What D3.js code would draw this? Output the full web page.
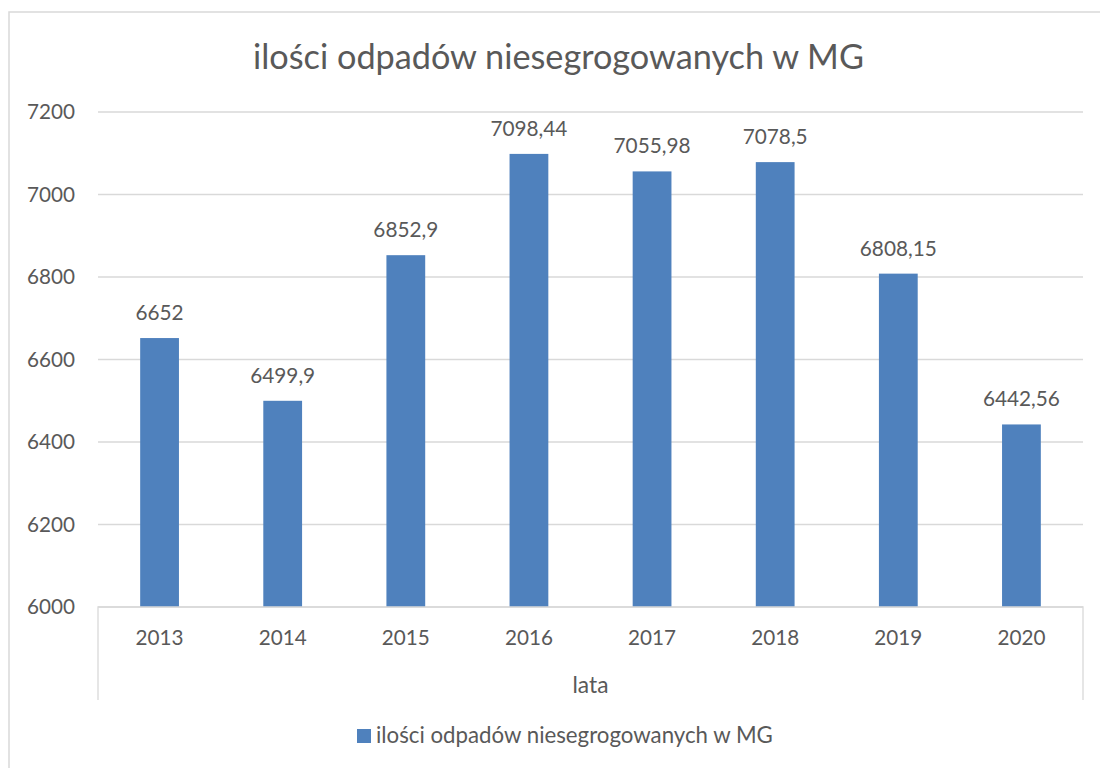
<!DOCTYPE html>
<html><head><meta charset="utf-8">
<script src="https://cdn.jsdelivr.net/npm/d3@7"></script>
<style>body{margin:0;background:#fff}</style>
</head><body>
<svg id="c" width="1100" height="768"></svg>
<script>
const categories = ["2013","2014","2015","2016","2017","2018","2019","2020"];
const values = [6652, 6499.9, 6852.9, 7098.44, 7055.98, 7078.5, 6808.15, 6442.56];
const valueLabels = ["6652","6499,9","6852,9","7098,44","7055,98","7078,5","6808,15","6442,56"];
const yTicks = [6000, 6200, 6400, 6600, 6800, 7000, 7200];
const title = "ilości odpadów niesegrogowanych w MG";
const xTitle = "lata";
const seriesName = "ilości odpadów niesegrogowanych w MG";

const FONT = "Lato, 'Open Sans', sans-serif";
const TXT = "#595959", GRID = "#d9d9d9", BAR = "#4f81bd";
const svg = d3.select("#c");
const L = 98, R = 1083, T = 112, B = 607;

// fit a text element's font size so its width matches a target
function fit(sel, target, base) {
  sel.attr("font-size", base);
  const w = sel.node().getComputedTextLength();
  sel.attr("font-size", base * target / w);
  return base * target / w;
}

// outer border (chart area frame)
svg.append("path").attr("d", "M9,768 V12 H1100").attr("fill","none").attr("stroke","#d9d9d9").attr("stroke-width",1.5);

const x = d3.scaleBand().domain(categories).range([L, R]).paddingInner(0.685).paddingOuter(0.3425);
const y = d3.scaleLinear().domain([6000, 7200]).range([B, T]);

// gridlines
svg.append("g").selectAll("line").data(yTicks).join("line")
  .attr("x1", L).attr("x2", R).attr("y1", d => y(d)).attr("y2", d => y(d))
  .attr("stroke", GRID).attr("stroke-width", 1.3);

// y tick labels
const probe = svg.append("text").attr("font-family", FONT).text("7200");
const tickSize = fit(probe, 48, 20); probe.remove();
svg.append("g").selectAll("text").data(yTicks).join("text")
  .attr("x", 75).attr("y", d => y(d)).attr("dy", "0.36em")
  .attr("text-anchor", "end").attr("font-family", FONT).attr("font-size", tickSize)
  .attr("fill", TXT).text(d => d);

// bars
svg.append("g").selectAll("rect").data(values).join("rect")
  .attr("x", (d,i) => x(categories[i])).attr("width", x.bandwidth())
  .attr("y", d => y(d)).attr("height", d => B - y(d)).attr("fill", BAR);

// data labels
const p2 = svg.append("text").attr("font-family", FONT).text("7098,44");
const dlSize = fit(p2, 77, 20); p2.remove();
svg.append("g").selectAll("text").data(values).join("text")
  .attr("x", (d,i) => x(categories[i]) + x.bandwidth()/2).attr("y", d => y(d) - 18)
  .attr("text-anchor", "middle").attr("font-family", FONT).attr("font-size", dlSize)
  .attr("fill", TXT).text((d,i) => valueLabels[i]);

// x axis line and end ticks
svg.append("path").attr("d", `M${L},700 V${B} H${R} V700`).attr("fill","none").attr("stroke", GRID).attr("stroke-width",1.3);

// category labels
svg.append("g").selectAll("text").data(categories).join("text")
  .attr("x", d => x(d) + x.bandwidth()/2).attr("y", 645)
  .attr("text-anchor", "middle").attr("font-family", FONT).attr("font-size", tickSize)
  .attr("fill", TXT).text(d => d);

// axis title
const xt = svg.append("text").attr("x", (L+R)/2).attr("y", 693).attr("text-anchor","middle")
  .attr("font-family", FONT).attr("fill", TXT).text(xTitle);
fit(xt, 36, 20);

// chart title
const tt = svg.append("text").attr("x", 558.5).attr("y", 69).attr("text-anchor","middle")
  .attr("font-family", FONT).attr("fill", TXT).text(title);
fit(tt, 611, 30);

// legend
svg.append("rect").attr("x", 357).attr("y", 729).attr("width", 14).attr("height", 14).attr("fill", BAR);
const lt = svg.append("text").attr("x", 376).attr("y", 743).attr("font-family", FONT).attr("fill", TXT).text(seriesName);
fit(lt, 397, 20);
</script>
</body></html>
